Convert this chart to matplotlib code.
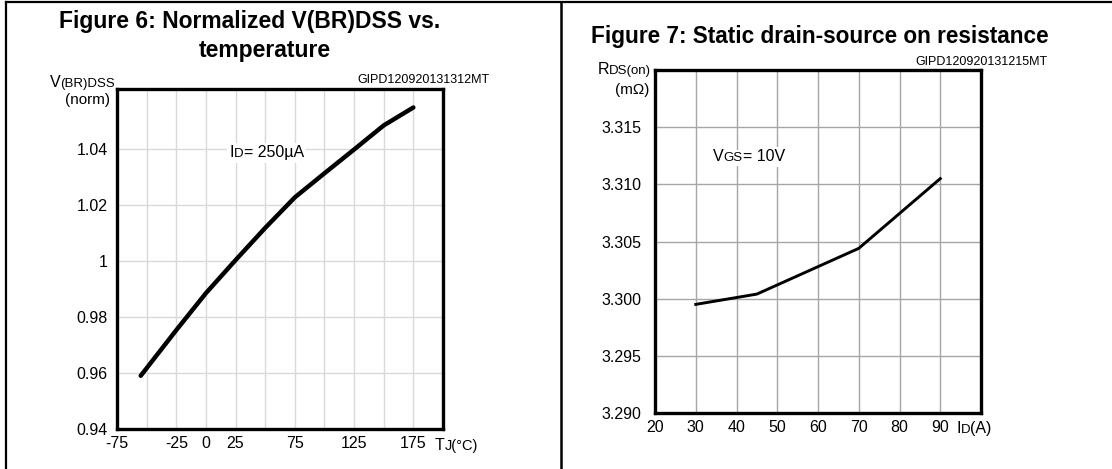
import matplotlib
matplotlib.use("Agg")
import matplotlib.pyplot as plt
from matplotlib.lines import Line2D
from matplotlib.text import Annotation

plt.rcParams['font.family'] = ['Liberation Sans', 'DejaVu Sans']

# Figure 6 data
temp_c = [-55, -25, 0, 25, 50, 75, 100, 125, 150, 175]
vbr_norm = [0.959, 0.9753, 0.9885, 1.0003, 1.0118, 1.0227, 1.0313, 1.0398, 1.0484, 1.0548]
temp_ticks = [-75, -50, -25, 0, 25, 50, 75, 100, 125, 150, 175, 200]
temp_labels = ['-75', '', '-25', '0', '25', '', '75', '', '125', '', '175', '']
vbr_ticks = [0.94, 0.96, 0.98, 1.00, 1.02, 1.04]
vbr_labels = ['0.94', '0.96', '0.98', '1', '1.02', '1.04']

# Figure 7 data
id_amp = [30, 45, 70, 90]
rds_on = [3.2995, 3.3004, 3.3044, 3.3105]
id_ticks = [20, 30, 40, 50, 60, 70, 80, 90, 100]
id_labels = ['20', '30', '40', '50', '60', '70', '80', '90', '']
rds_ticks = [3.290, 3.295, 3.300, 3.305, 3.310, 3.315, 3.320]
rds_labels = ['3.290', '3.295', '3.300', '3.305', '3.310', '3.315', '']

W, H = 1112, 469
fig = plt.figure(figsize=(W / 100, H / 100), dpi=100)

BIG = 11.5
SMALL = 9.5


def fx(x):
    return x / W


def fy(y):
    return 1 - y / H


def chain(host, x, y, pieces, ha='left', transform=None, white=False):
    # draw text pieces of different sizes one after another on one baseline
    if ha == 'right':
        pieces = pieces[::-1]
    kw = {'zorder': 20}
    if transform is not None:
        kw['transform'] = transform
    if white:
        # white backing under the label, text itself invisible
        kw.update(color='white', zorder=15,
                  bbox=dict(boxstyle='square,pad=0.15', fc='white', ec='none'))
    first, size = pieces[0]
    prev = host.text(x, y, first, fontsize=size, ha=ha, va='baseline', **kw)
    kw.pop('transform', None)
    for s, size in pieces[1:]:
        if ha == 'right':
            a = Annotation(s, xy=(0, 0), xycoords=prev, fontsize=size,
                           ha='right', va='bottom', **kw)
        else:
            a = Annotation(s, xy=(1, 0), xycoords=prev, fontsize=size,
                           ha='left', va='bottom', **kw)
        if host is fig:
            fig.add_artist(a)
        else:
            host._add_text(a)
        prev = a


# panel frame
fig.add_artist(Line2D([fx(6), fx(1112)], [fy(2), fy(2)], color='black', lw=1.6))
fig.add_artist(Line2D([fx(6), fx(6)], [fy(2), fy(469)], color='black', lw=1.6))
fig.add_artist(Line2D([fx(561), fx(561)], [fy(2), fy(469)], color='black', lw=1.8))

# ---- Figure 6 ----
ax1 = fig.add_axes([fx(117), fy(429), (443 - 117) / W, (429 - 89) / H])
ax1.plot(temp_c, vbr_norm, color='black', lw=3.2, solid_capstyle='round')
ax1.set_xlim(-75, 200)
ax1.set_ylim(0.94, 1.0614)
ax1.set_xticks(temp_ticks)
ax1.set_xticklabels(temp_labels)
ax1.set_yticks(vbr_ticks)
ax1.set_yticklabels(vbr_labels)
ax1.grid(True, color='#d9d9d9', lw=1.0)
ax1.tick_params(length=0, labelsize=BIG, pad=6.5)
ax1.tick_params(axis='x', pad=5)
for s in ax1.spines.values():
    s.set_linewidth(2.4)

fig.text(fx(250), fy(28), 'Figure 6: Normalized V(BR)DSS vs.', fontsize=16.5,
         fontweight='bold', ha='center', va='baseline')
fig.text(fx(265), fy(57), 'temperature', fontsize=16.5,
         fontweight='bold', ha='center', va='baseline')
fig.text(fx(490), fy(83), 'GIPD120920131312MT', fontsize=9, ha='right', va='baseline')
chain(fig, fx(115), fy(87), [('V', BIG), ('(BR)DSS', SMALL)], ha='right')
fig.text(fx(110), fy(104), '(norm)', fontsize=11, ha='right', va='baseline')
chain(fig, fx(435), fy(450), [('T', BIG), ('J(°C)', 10.5)])

id_label = [('I', BIG), ('D', SMALL), ('= 250µA', BIG)]
chain(ax1, 20, 1.037, id_label, transform=ax1.transData, white=True)
chain(ax1, 20, 1.037, id_label, transform=ax1.transData)

# ---- Figure 7 ----
ax2 = fig.add_axes([fx(655), fy(413), (981 - 655) / W, (413 - 70) / H])
ax2.plot(id_amp, rds_on, color='black', lw=2.1)
ax2.set_xlim(20, 100)
ax2.set_ylim(3.290, 3.320)
ax2.set_xticks(id_ticks)
ax2.set_xticklabels(id_labels)
ax2.set_yticks(rds_ticks)
ax2.set_yticklabels(rds_labels)
ax2.grid(True, color='#a6a6a6', lw=1.0)
ax2.tick_params(length=0, labelsize=BIG, pad=5)
ax2.tick_params(axis='y', pad=10)
for s in ax2.spines.values():
    s.set_linewidth(2.4)

fig.text(fx(820), fy(43), 'Figure 7: Static drain-source on resistance', fontsize=16.3,
         fontweight='bold', ha='center', va='baseline')
fig.text(fx(1048), fy(65), 'GIPD120920131215MT', fontsize=9, ha='right', va='baseline')
chain(fig, fx(651), fy(74), [('R', BIG), ('DS(on)', SMALL)], ha='right')
fig.text(fx(649), fy(94), '(mΩ)', fontsize=11, ha='right', va='baseline')
chain(fig, fx(956), fy(433), [('I', BIG), ('D', SMALL), ('(A)', BIG)])

vgs_label = [('V', BIG), ('GS', SMALL), ('= 10V', BIG)]
chain(ax2, 34.2, 3.3120, vgs_label, transform=ax2.transData, white=True)
chain(ax2, 34.2, 3.3120, vgs_label, transform=ax2.transData)

fig.savefig('out.png', dpi=100)
